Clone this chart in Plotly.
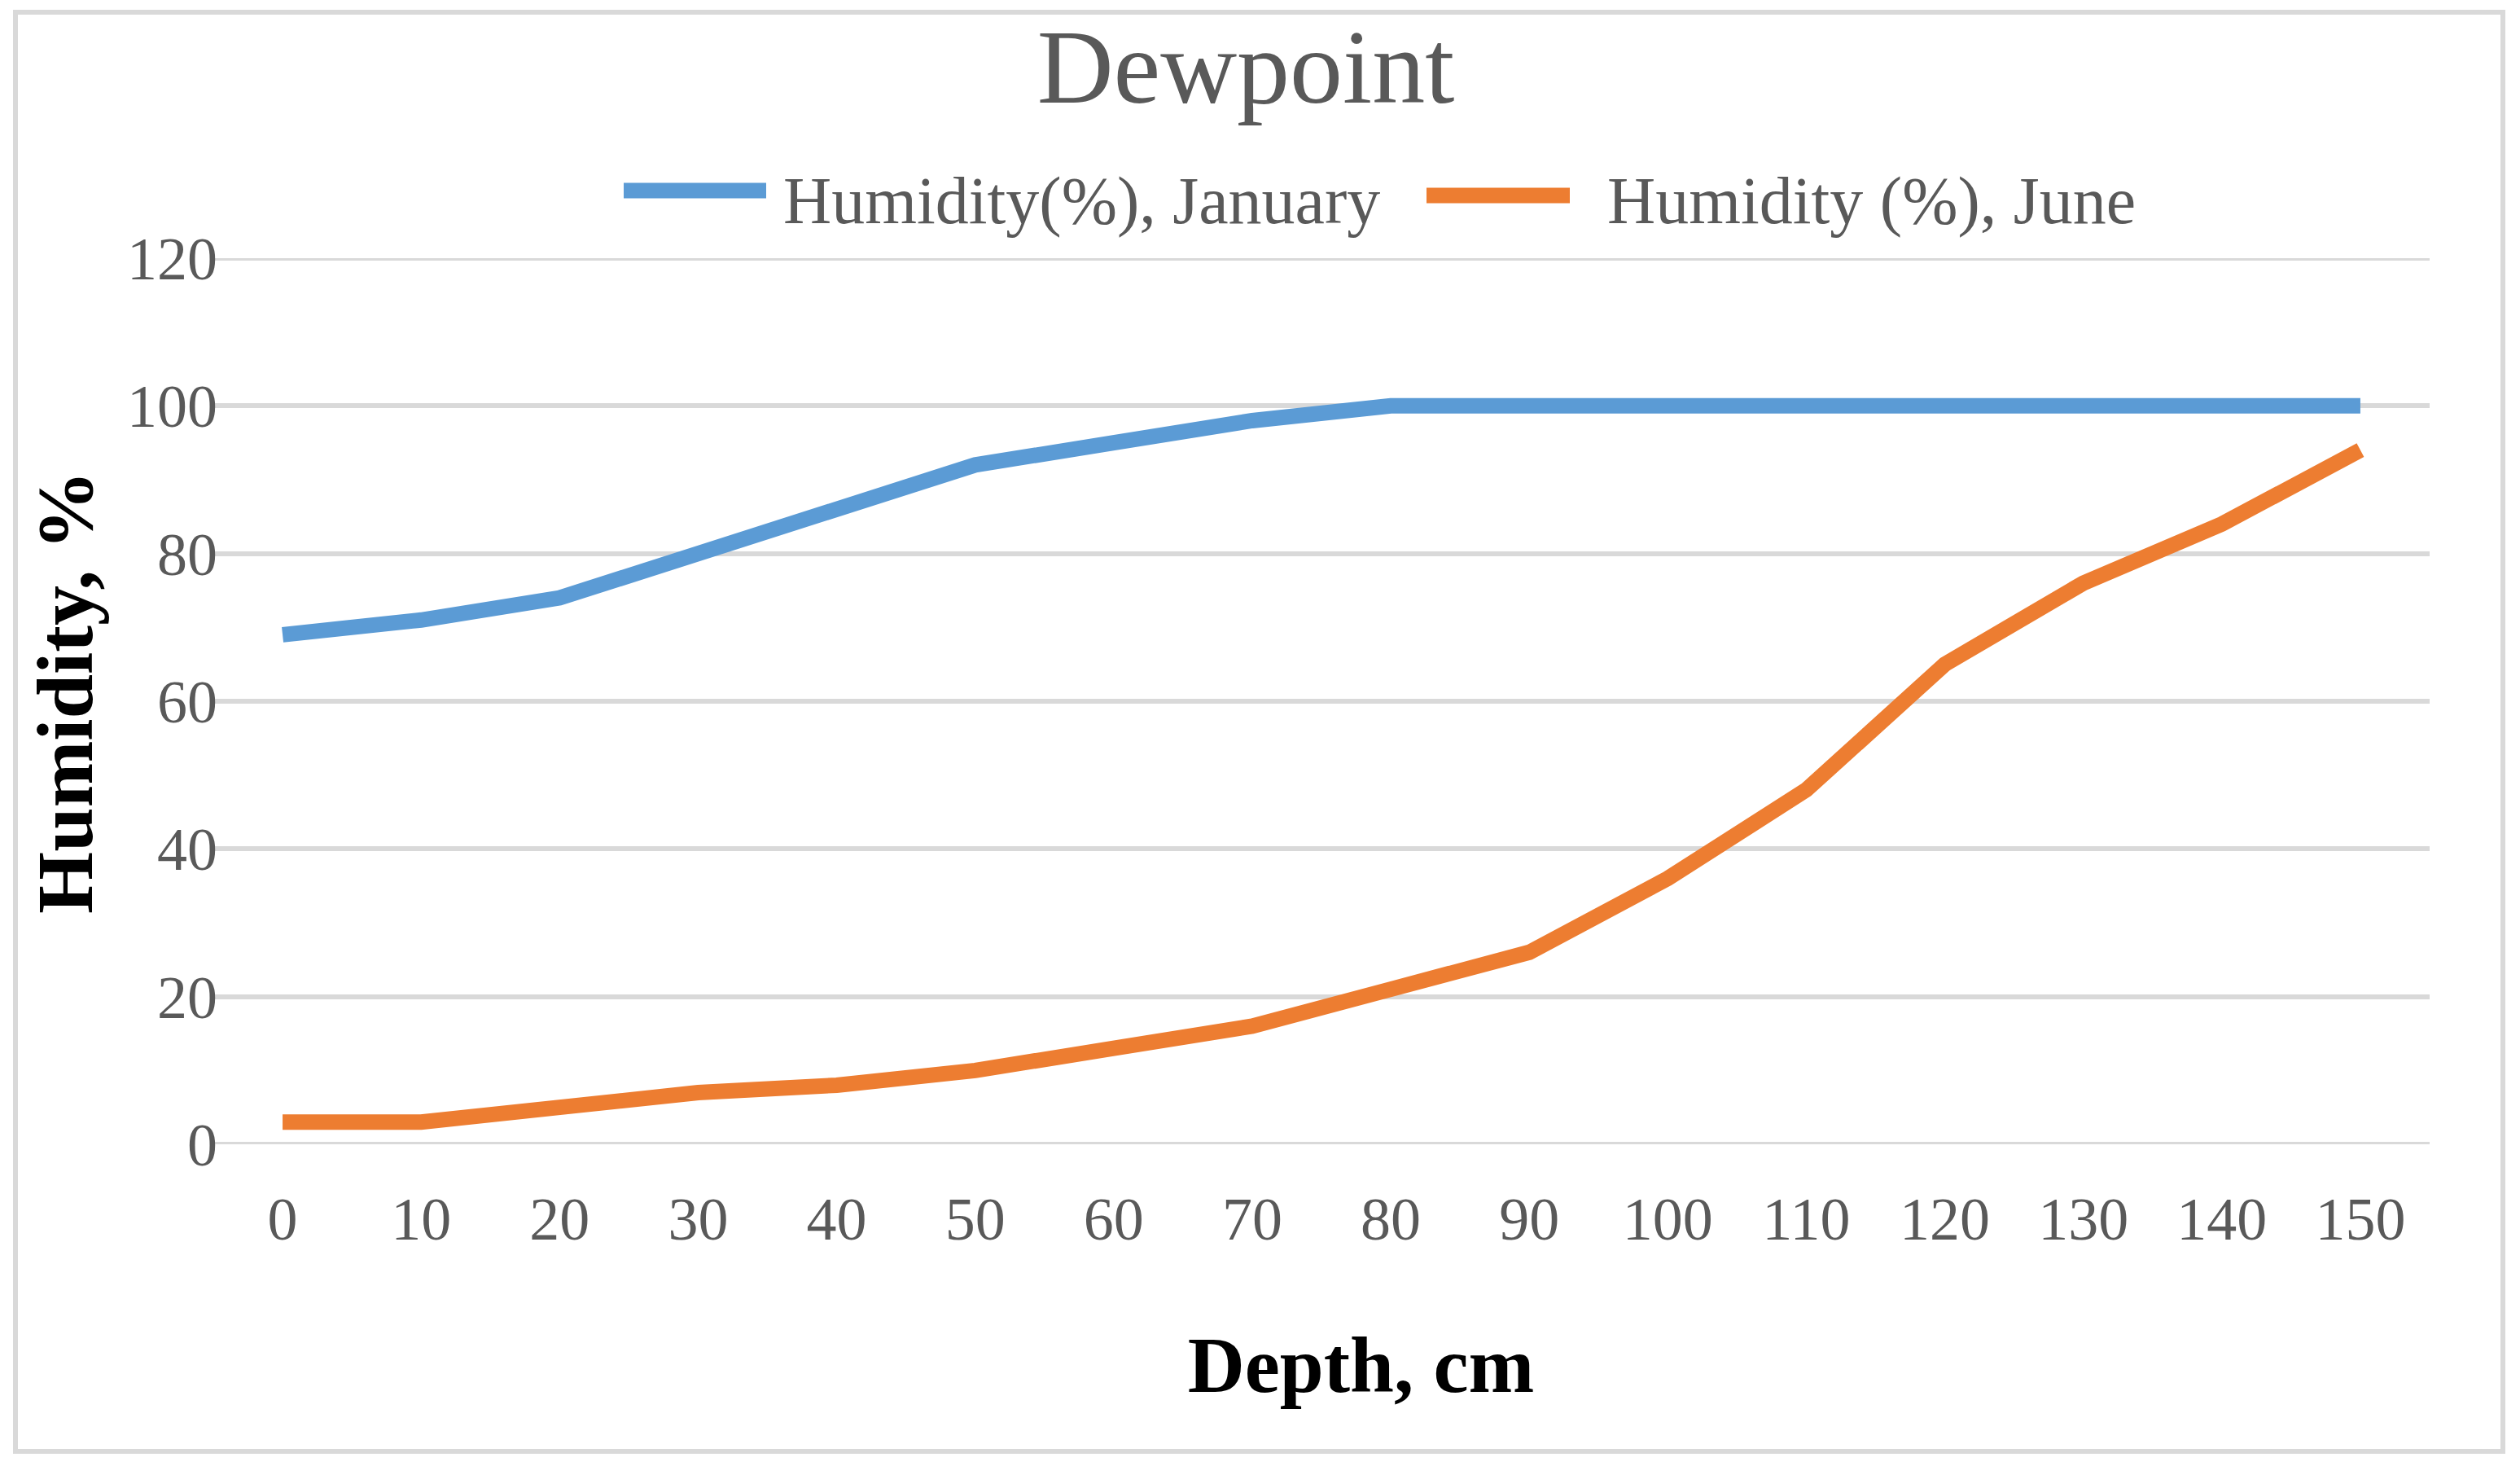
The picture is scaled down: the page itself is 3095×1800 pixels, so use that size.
import plotly.graph_objects as go

# ---- data ----
depth_cm = [0, 10, 20, 30, 40, 50, 60, 70, 80, 90, 100, 110, 120, 130, 140, 150]
humidity_january = [69, 71, 74, 80, 86, 92, 95, 98, 100, 100, 100, 100, 100, 100, 100, 100]
humidity_june = [3, 3, 5, 7, 8, 10, 13, 16, 21, 26, 36, 48, 65, 76, 84, 94]
series_names = ["Humidity(%), January", "Humidity (%), June"]
y_ticks = [0, 20, 40, 60, 80, 100, 120]

# ---- layout geometry (pixels) ----
W, H = 3095, 1800
L, R, T, B = 262, 3095 - 2984, 317, 1800 - 1405
PW, PH = W - L - R, H - T - B

def px(x):
    return (x - L) / PW

def py(y):
    return (H - B - y) / PH

BLUE = "#5B9BD5"
ORANGE = "#ED7D31"
GRID = "#D9D9D9"
TXT = "#595959"
FONT = "Liberation Serif"

fig = go.Figure()
fig.add_trace(go.Scatter(x=depth_cm, y=humidity_january, mode="lines", name=series_names[0],
                         line=dict(color=BLUE, width=19), showlegend=False))
fig.add_trace(go.Scatter(x=depth_cm, y=humidity_june, mode="lines", name=series_names[1],
                         line=dict(color=ORANGE, width=19), showlegend=False))

fig.update_layout(
    width=W, height=H,
    margin=dict(l=L, r=R, t=T, b=B),
    paper_bgcolor="white", plot_bgcolor="white",
    title=dict(text="Dewpoint", x=1530 / W, xanchor="center", y=1 - 80 / H, yanchor="middle",
               yref="container", font=dict(family=FONT, size=130, color=TXT)),
    xaxis=dict(range=[-5, 155], tickvals=depth_cm, ticktext=[str(d) for d in depth_cm],
               showgrid=False, zeroline=False, showline=False, ticks="",
               tickfont=dict(family=FONT, size=74, color=TXT), ticklabelstandoff=42,
               title=dict(text="&nbsp;&nbsp;&nbsp;&nbsp;<b>Depth, cm</b>",
                          font=dict(family=FONT, size=97, color="black"), standoff=104)),
    yaxis=dict(range=[0, 120], tickvals=y_ticks, showgrid=True, gridcolor=GRID, gridwidth=6,
               zeroline=False, showline=False, ticks="",
               tickfont=dict(family=FONT, size=74, color=TXT), ticklabelstandoff=-6),
)

# y axis title
fig.add_annotation(xref="paper", yref="paper", x=px(80), y=py(850), xanchor="center", yanchor="middle",
                   textangle=-90, text="<b>Humidity, %</b>", showarrow=False,
                   font=dict(family=FONT, size=98, color="black"))

# grid lines at the range ends (plotly clips them)
for yv in (y_ticks[0], y_ticks[-1]):
    fig.add_shape(type="line", xref="paper", yref="y", x0=0, x1=1, y0=yv, y1=yv,
                  line=dict(color=GRID, width=6), layer="below")

# outer chart border
fig.add_shape(type="rect", xref="paper", yref="paper",
              x0=px(19), x1=px(3074), y0=py(1782), y1=py(15),
              line=dict(color=GRID, width=6), fillcolor="rgba(0,0,0,0)", layer="below")

# legend (drawn manually to match long line keys)
fig.add_shape(type="line", xref="paper", yref="paper", x0=px(766), x1=px(941), y0=py(234), y1=py(234),
              line=dict(color=BLUE, width=19))
fig.add_shape(type="line", xref="paper", yref="paper", x0=px(1752), x1=px(1928), y0=py(240), y1=py(240),
              line=dict(color=ORANGE, width=19))
fig.add_annotation(xref="paper", yref="paper", x=px(960), y=py(246), xanchor="left", yanchor="middle",
                   text=series_names[0], showarrow=False, font=dict(family=FONT, size=82, color=TXT))
fig.add_annotation(xref="paper", yref="paper", x=px(1972), y=py(246), xanchor="left", yanchor="middle",
                   text=series_names[1], showarrow=False, font=dict(family=FONT, size=82, color=TXT))

fig.write_html("out.html", config={"displayModeBar": False},
               post_script="document.body.style.margin='0';")
